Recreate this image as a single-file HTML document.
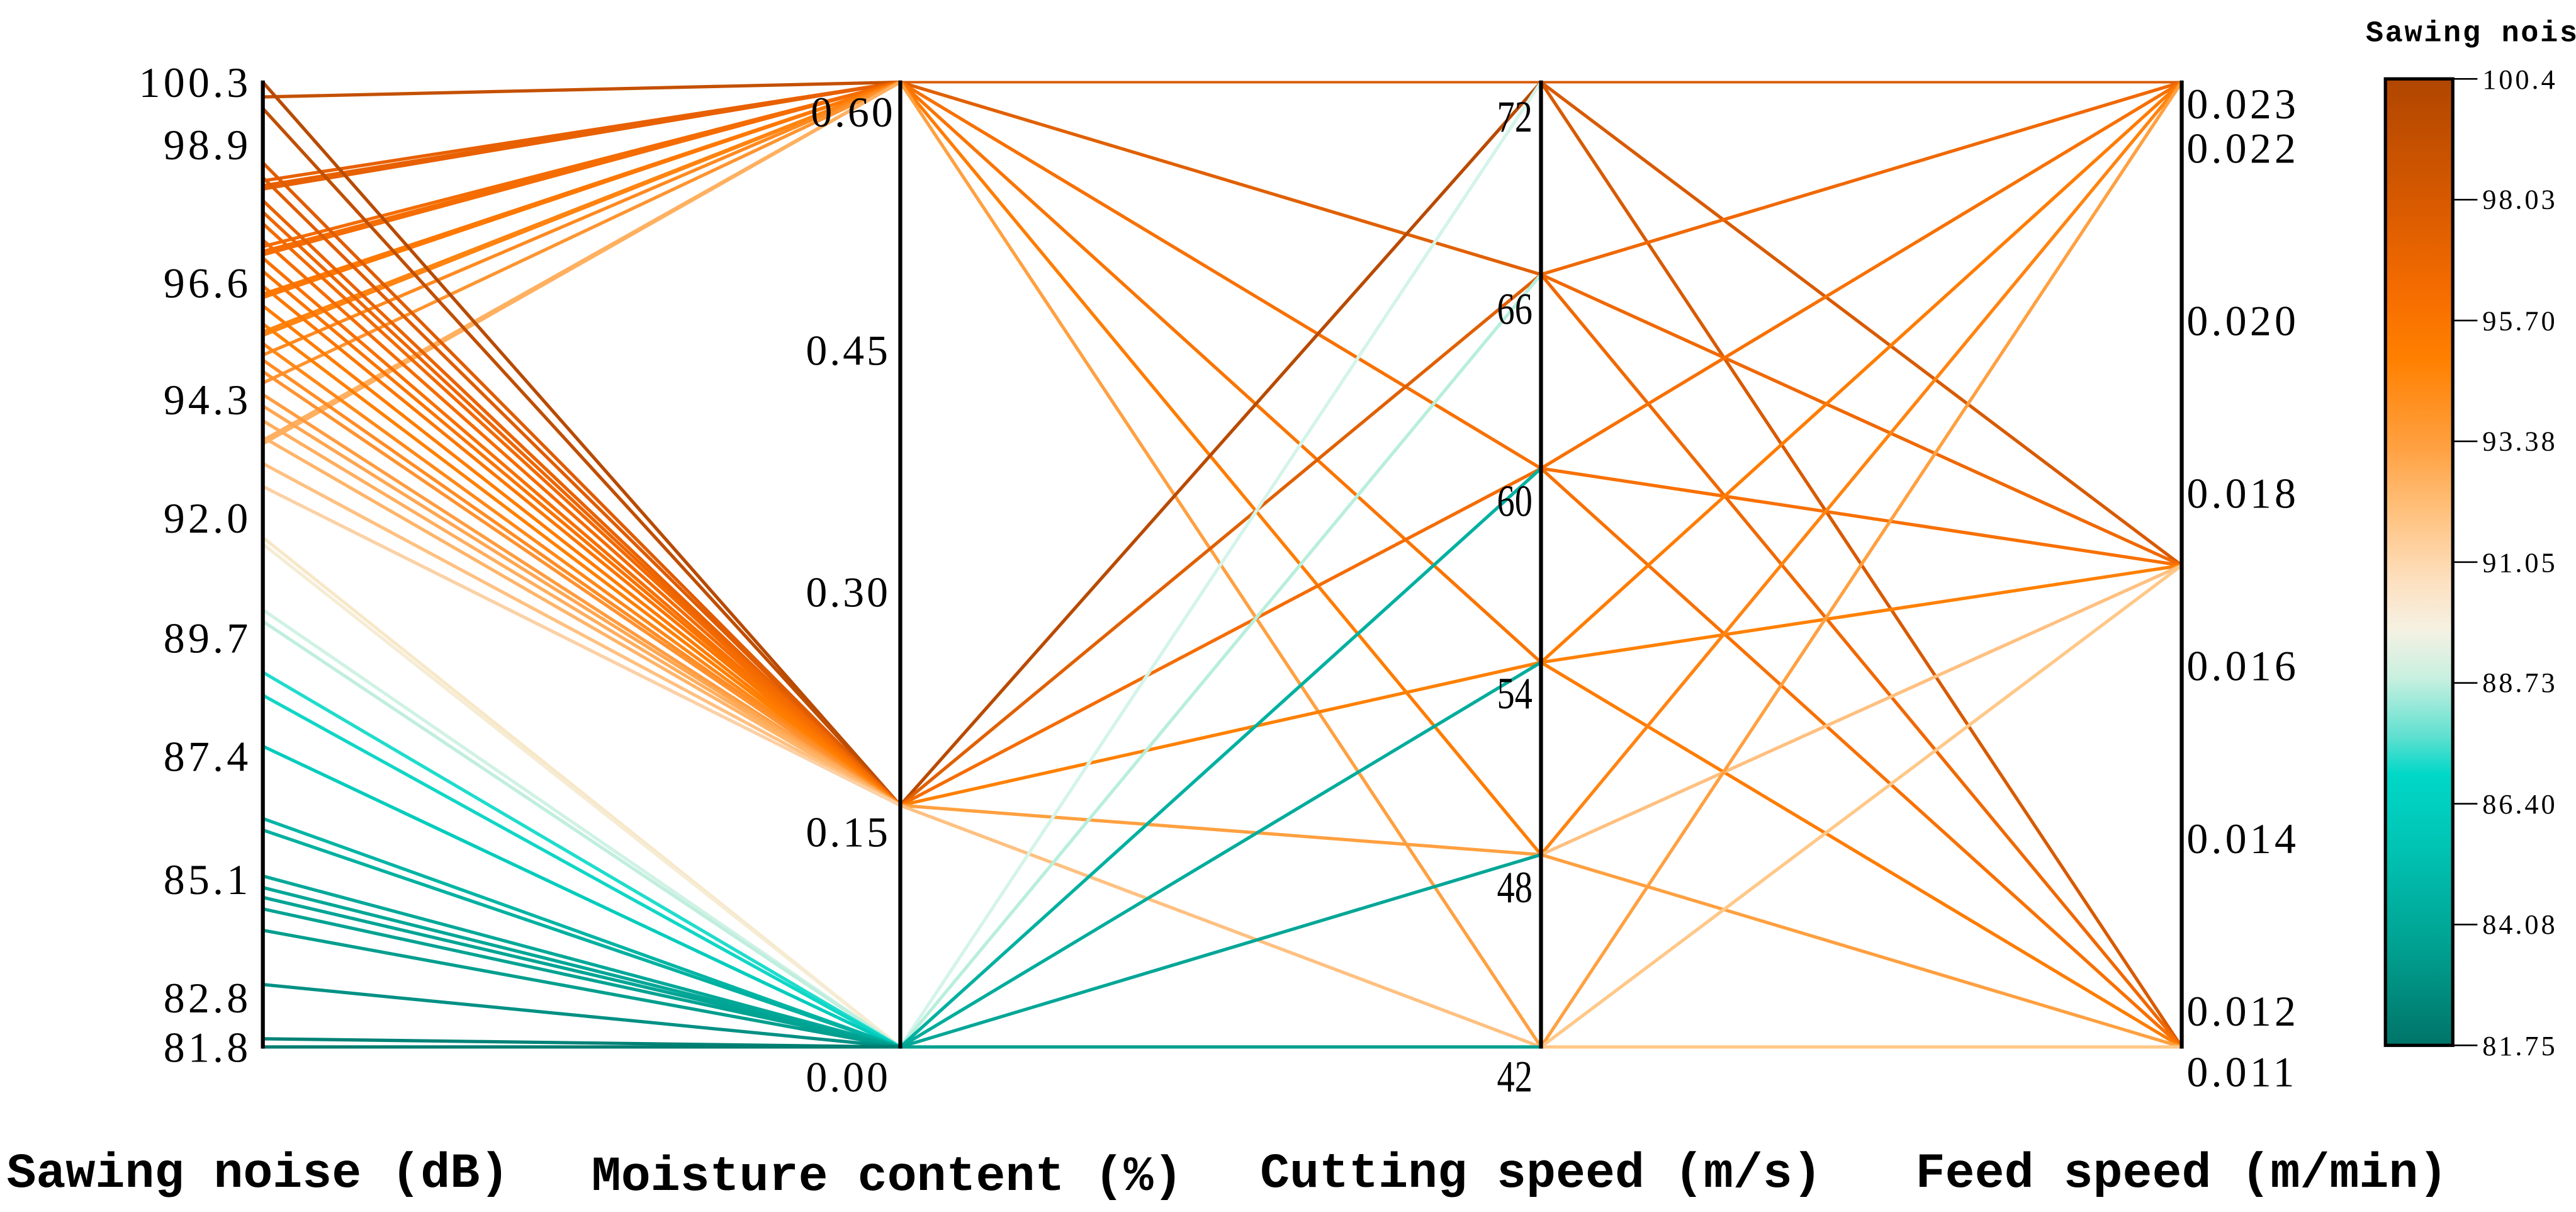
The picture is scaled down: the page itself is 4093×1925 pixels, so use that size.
<!DOCTYPE html>
<html><head><meta charset="utf-8"><style>
html,body{margin:0;padding:0;background:#fff;}
svg{display:block}
text{font-family:"Liberation Serif",serif;fill:#000}
.t{font-family:"Liberation Mono",monospace;font-weight:bold;font-size:30px}
</style></head><body>
<svg width="4093" height="1925" viewBox="0 0 1568 737.4" preserveAspectRatio="none" xmlns="http://www.w3.org/2000/svg">
<defs>
<linearGradient id="cb" x1="0" y1="0" x2="0" y2="1">
<stop offset="0" stop-color="#b04600"/>
<stop offset="0.13" stop-color="#d85a00"/>
<stop offset="0.22" stop-color="#f56c00"/>
<stop offset="0.29" stop-color="#ff8000"/>
<stop offset="0.38" stop-color="#ffa040"/>
<stop offset="0.45" stop-color="#ffc27f"/>
<stop offset="0.52" stop-color="#fde0c0"/>
<stop offset="0.57" stop-color="#f5f1e2"/>
<stop offset="0.62" stop-color="#c8f0e0"/>
<stop offset="0.68" stop-color="#60e0d0"/>
<stop offset="0.72" stop-color="#00d8c8"/>
<stop offset="0.8" stop-color="#00c2b2"/>
<stop offset="0.9" stop-color="#00a090"/>
<stop offset="1" stop-color="#007468"/>
</linearGradient>
</defs>
<g stroke-width="2" fill="none" stroke-linecap="round">
<g>
<line x1="160" y1="59" x2="548" y2="50" stroke="#c45000"/>
<line x1="160" y1="110" x2="548" y2="50" stroke="#e86000"/>
<line x1="160" y1="113" x2="548" y2="50" stroke="#e86000"/>
<line x1="160" y1="115" x2="548" y2="50" stroke="#e86000"/>
<line x1="160" y1="150" x2="548" y2="50" stroke="#f56c00"/>
<line x1="160" y1="153" x2="548" y2="50" stroke="#f56c00"/>
<line x1="160" y1="155" x2="548" y2="50" stroke="#f56c00"/>
<line x1="160" y1="179" x2="548" y2="50" stroke="#ff7800"/>
<line x1="160" y1="181" x2="548" y2="50" stroke="#ff7800"/>
<line x1="160" y1="202" x2="548" y2="50" stroke="#ff8410"/>
<line x1="160" y1="204" x2="548" y2="50" stroke="#ff8410"/>
<line x1="160" y1="216" x2="548" y2="50" stroke="#ff8a20"/>
<line x1="160" y1="233" x2="548" y2="50" stroke="#ff9430"/>
<line x1="160" y1="268" x2="548" y2="50" stroke="#ffb060"/>
<line x1="160" y1="270" x2="548" y2="50" stroke="#ffb060"/>
</g>
<g>
<line x1="160" y1="50" x2="548" y2="490" stroke="#b84a00"/>
<line x1="160" y1="66" x2="548" y2="490" stroke="#c04e00"/>
<line x1="160" y1="99" x2="548" y2="490" stroke="#e05c00"/>
<line x1="160" y1="108" x2="548" y2="490" stroke="#e05c00"/>
<line x1="160" y1="122" x2="548" y2="490" stroke="#ea6200"/>
<line x1="160" y1="129" x2="548" y2="490" stroke="#ee6600"/>
<line x1="160" y1="136" x2="548" y2="490" stroke="#f26a00"/>
<line x1="160" y1="146" x2="548" y2="490" stroke="#f56c00"/>
<line x1="160" y1="157" x2="548" y2="490" stroke="#f87000"/>
<line x1="160" y1="165" x2="548" y2="490" stroke="#fa7400"/>
<line x1="160" y1="174" x2="548" y2="490" stroke="#fc7600"/>
<line x1="160" y1="186" x2="548" y2="490" stroke="#ff7c00"/>
<line x1="160" y1="197" x2="548" y2="490" stroke="#ff8000"/>
<line x1="160" y1="209" x2="548" y2="490" stroke="#ff8818"/>
<line x1="160" y1="219" x2="548" y2="490" stroke="#ff8c24"/>
<line x1="160" y1="226" x2="548" y2="490" stroke="#ff9230"/>
<line x1="160" y1="240" x2="548" y2="490" stroke="#ff9c40"/>
<line x1="160" y1="247" x2="548" y2="490" stroke="#ffa650"/>
<line x1="160" y1="256" x2="548" y2="490" stroke="#ffae5e"/>
<line x1="160" y1="266" x2="548" y2="490" stroke="#ffb468"/>
<line x1="160" y1="282" x2="548" y2="490" stroke="#ffc080"/>
<line x1="160" y1="296" x2="548" y2="490" stroke="#fdd0a4"/>
</g>
<g>
<line x1="160" y1="327" x2="548" y2="637" stroke="#f8e8c8"/>
<line x1="160" y1="331" x2="548" y2="637" stroke="#f6ecd4"/>
<line x1="160" y1="371" x2="548" y2="637" stroke="#d0f2e4"/>
<line x1="160" y1="378" x2="548" y2="637" stroke="#c0eede"/>
<line x1="160" y1="409" x2="548" y2="637" stroke="#20dccc"/>
<line x1="160" y1="423" x2="548" y2="637" stroke="#10d6c6"/>
<line x1="160" y1="454" x2="548" y2="637" stroke="#00ccbc"/>
<line x1="160" y1="498" x2="548" y2="637" stroke="#00b4a4"/>
<line x1="160" y1="505" x2="548" y2="637" stroke="#00b0a0"/>
<line x1="160" y1="533" x2="548" y2="637" stroke="#00a898"/>
<line x1="160" y1="540" x2="548" y2="637" stroke="#00a696"/>
<line x1="160" y1="546" x2="548" y2="637" stroke="#00a494"/>
<line x1="160" y1="553" x2="548" y2="637" stroke="#00a292"/>
<line x1="160" y1="566" x2="548" y2="637" stroke="#009e8e"/>
<line x1="160" y1="599" x2="548" y2="637" stroke="#009084"/>
<line x1="160" y1="632" x2="548" y2="637" stroke="#008276"/>
<line x1="160" y1="637" x2="548" y2="637" stroke="#007c70"/>
</g>
<g>
<line x1="548" y1="50" x2="1328" y2="50" stroke="#d85a00" stroke-width="1.5"/>
<line x1="548" y1="50" x2="938" y2="167" stroke="#e06000"/>
<line x1="548" y1="50" x2="938" y2="285" stroke="#f87000"/>
<line x1="548" y1="50" x2="938" y2="403" stroke="#fa7400"/>
<line x1="548" y1="50" x2="938" y2="520" stroke="#ff7c00"/>
<line x1="548" y1="50" x2="938" y2="637" stroke="#ffa040"/>
<line x1="548" y1="490" x2="938" y2="50" stroke="#b84a00"/>
<line x1="548" y1="490" x2="938" y2="167" stroke="#e06000"/>
<line x1="548" y1="490" x2="938" y2="285" stroke="#f56c00"/>
<line x1="548" y1="490" x2="938" y2="403" stroke="#ff8000"/>
<line x1="548" y1="490" x2="938" y2="520" stroke="#ffa040"/>
<line x1="548" y1="490" x2="938" y2="637" stroke="#ffc080"/>
<line x1="548" y1="637" x2="938" y2="50" stroke="#d4f4ea"/>
<line x1="548" y1="637" x2="938" y2="167" stroke="#b8eedc"/>
<line x1="548" y1="637" x2="938" y2="285" stroke="#00b0a0"/>
<line x1="548" y1="637" x2="938" y2="403" stroke="#00ac9c"/>
<line x1="548" y1="637" x2="938" y2="520" stroke="#00a696"/>
<line x1="548" y1="637" x2="938" y2="637" stroke="#00a090"/>
</g>
<g>
<line x1="938" y1="50" x2="1328" y2="344" stroke="#d85a00"/>
<line x1="938" y1="50" x2="1328" y2="637" stroke="#d85a00"/>
<line x1="938" y1="167" x2="1328" y2="50" stroke="#f06800"/>
<line x1="938" y1="167" x2="1328" y2="344" stroke="#f06800"/>
<line x1="938" y1="167" x2="1328" y2="637" stroke="#f06800"/>
<line x1="938" y1="285" x2="1328" y2="50" stroke="#f87000"/>
<line x1="938" y1="285" x2="1328" y2="344" stroke="#f87000"/>
<line x1="938" y1="285" x2="1328" y2="637" stroke="#f87000"/>
<line x1="938" y1="403" x2="1328" y2="50" stroke="#ff7c00"/>
<line x1="938" y1="403" x2="1328" y2="344" stroke="#ff8000"/>
<line x1="938" y1="403" x2="1328" y2="637" stroke="#ff7c00"/>
<line x1="938" y1="520" x2="1328" y2="50" stroke="#ff8410"/>
<line x1="938" y1="520" x2="1328" y2="344" stroke="#ffc080"/>
<line x1="938" y1="520" x2="1328" y2="637" stroke="#ffa040"/>
<line x1="938" y1="637" x2="1328" y2="50" stroke="#ffa040"/>
<line x1="938" y1="637" x2="1328" y2="344" stroke="#ffc888"/>
<line x1="938" y1="637" x2="1328" y2="637" stroke="#ffc888"/>
</g>
</g>
<g stroke="#000" stroke-width="2.4">
<line x1="160" y1="49" x2="160" y2="638"/>
<line x1="548" y1="49" x2="548" y2="638"/>
<line x1="938" y1="49" x2="938" y2="638"/>
<line x1="1328" y1="49" x2="1328" y2="638"/>
</g>
<g font-size="26" text-anchor="end" letter-spacing="2">
<text x="153" y="59">100.3</text>
<text x="153" y="97">98.9</text>
<text x="153" y="181">96.6</text>
<text x="153" y="252">94.3</text>
<text x="153" y="324">92.0</text>
<text x="153" y="397">89.7</text>
<text x="153" y="469">87.4</text>
<text x="153" y="544">85.1</text>
<text x="153" y="616">82.8</text>
<text x="153" y="646">81.8</text>
</g>
<g font-size="26" text-anchor="end" letter-spacing="1.5">
<text x="545" y="77">0.60</text>
<text x="542" y="222">0.45</text>
<text x="542" y="369">0.30</text>
<text x="542" y="515">0.15</text>
<text x="542" y="664">0.00</text>
</g>
<g font-size="27" text-anchor="end" transform="scale(0.8,1)">
<text x="1166" y="80">72</text>
<text x="1166" y="197">66</text>
<text x="1166" y="314">60</text>
<text x="1166" y="431">54</text>
<text x="1166" y="549">48</text>
<text x="1166" y="664">42</text>
</g>
<g font-size="26" letter-spacing="2">
<text x="1331" y="72">0.023</text>
<text x="1331" y="99">0.022</text>
<text x="1331" y="204">0.020</text>
<text x="1331" y="309">0.018</text>
<text x="1331" y="414">0.016</text>
<text x="1331" y="519">0.014</text>
<text x="1331" y="624">0.012</text>
<text x="1331" y="661">0.011</text>
</g>
<g text-anchor="middle">
<text class="t" x="157" y="722">Sawing noise (dB)</text>
<text class="t" x="540" y="724">Moisture content (%)</text>
<text class="t" x="938" y="722">Cutting speed (m/s)</text>
<text class="t" x="1328" y="722">Feed speed (m/min)</text>
</g>
<text x="1440" y="25" letter-spacing="1" style="font-family:'Liberation Mono',monospace;font-weight:bold;font-size:18px">Sawing noise</text>
<rect x="1452" y="48" width="41" height="588" fill="url(#cb)" stroke="#000" stroke-width="2"/>
<g stroke="#000" stroke-width="1">
<line x1="1493" y1="48" x2="1508" y2="48"/>
<line x1="1493" y1="121.5" x2="1508" y2="121.5"/>
<line x1="1493" y1="195" x2="1508" y2="195"/>
<line x1="1493" y1="268.5" x2="1508" y2="268.5"/>
<line x1="1493" y1="342" x2="1508" y2="342"/>
<line x1="1493" y1="415.5" x2="1508" y2="415.5"/>
<line x1="1493" y1="489" x2="1508" y2="489"/>
<line x1="1493" y1="562.5" x2="1508" y2="562.5"/>
<line x1="1493" y1="636" x2="1508" y2="636"/>
</g>
<g font-size="17" letter-spacing="1.5">
<text x="1511" y="54">100.4</text>
<text x="1511" y="127">98.03</text>
<text x="1511" y="201">95.70</text>
<text x="1511" y="274">93.38</text>
<text x="1511" y="348">91.05</text>
<text x="1511" y="421">88.73</text>
<text x="1511" y="495">86.40</text>
<text x="1511" y="568">84.08</text>
<text x="1511" y="642">81.75</text>
</g>
</svg>
</body></html>
